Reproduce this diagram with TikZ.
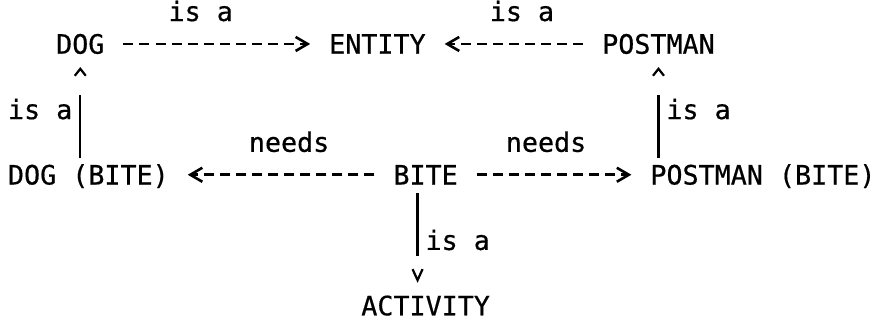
\documentclass[tikz,border=0pt]{standalone}
\usepackage{fontspec}
\setmainfont[FakeBold=0.6]{DejaVu Sans Mono}
\usetikzlibrary{arrows.meta}
\begin{document}
\begin{tikzpicture}[
  % one unit = one character cell across, one text line down
  x=16.06pt, y=-32.7pt,
  lbl/.style={anchor=base west, inner sep=0pt, outer sep=0pt,
              text height=19.5pt, text depth=0pt,
              font=\fontsize{26.7pt}{32pt}\selectfont},
  dashlink/.style={line width=2.6pt, dash pattern=on 10pt off 6.06pt,
                   shorten <=19pt, shorten >=19pt,
                   -{Straight Barb[length=12pt,width=14pt]}},
  uplink/.style={line width=2.2pt, shorten <=7pt, shorten >=13.3pt,
                 dash pattern=on 63pt off 100pt,
                 -{Straight Barb[length=7pt,width=11pt]}},
  downlink/.style={line width=2.2pt, shorten <=8.5pt, shorten >=13pt,
                   dash pattern=on 63pt off 100pt,
                   -{Straight Barb[length=11pt,width=10pt]}}
]
\useasboundingbox (-8pt,21pt) rectangle (869pt,-301pt);

% concepts
\node[lbl] (dog)      at (3,1)  {DOG};
\node[lbl] (entity)   at (20,1) {ENTITY};
\node[lbl] (postman)  at (37,1) {POSTMAN};
\node[lbl] (dogbite)  at (0,5)  {DOG (BITE)};
\node[lbl] (bite)     at (24,5) {BITE};
\node[lbl] (postbite) at (40,5) {POSTMAN (BITE)};
\node[lbl] (activity) at (22,9) {ACTIVITY};

% relation labels
\node[lbl] (isa1)   at (10,0) {is a};
\node[lbl] (isa2)   at (30,0) {is a};
\node[lbl] (isa3)   at (0,3)  {is a};
\node[lbl] (isa4)   at (41,3) {is a};
\node[lbl] (needs1) at (15,4) {needs};
\node[lbl] (needs2) at (31,4) {needs};
\node[lbl] (isa5)   at (26,7) {is a};

% horizontal relations
\draw[dashlink] (dog.east) -- (entity.west);
\draw[dashlink] (postman.west) -- (entity.east);
\draw[dashlink] (bite.west) -- (dogbite.east);
\draw[dashlink] (bite.east) -- (postbite.west);

% vertical relations
\draw[uplink] (dog.south |- dogbite.north) -- (dog.south);
\draw[uplink] (postman.south |- postbite.north) -- (postman.south);
\draw[downlink] ([xshift=-8.03pt]bite.south)
  -- ([xshift=-8.03pt]bite.south |- activity.north);
\end{tikzpicture}
\end{document}
